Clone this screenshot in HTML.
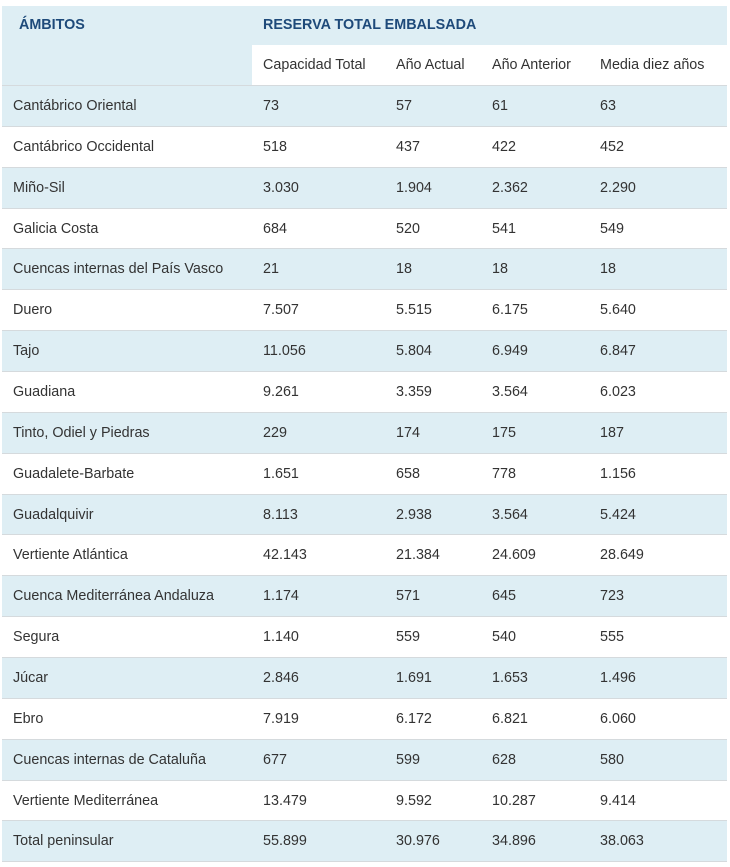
<!DOCTYPE html>
<html><head><meta charset="utf-8"><style>
body{margin:0;background:#fff;font-family:"Liberation Sans",Arial,sans-serif;}
table{position:absolute;left:2px;top:6px;width:725px;border-collapse:collapse;table-layout:fixed;font-size:14.35px;color:#333;}
td,th{height:39.86px;padding:0 0 0 11px;text-align:left;font-weight:normal;border-bottom:1px solid #d5dadd;vertical-align:middle;}
tr.b td,th{background:#deeef4;}
th{color:#1e4a7a;font-weight:bold;vertical-align:top;padding-top:11px;height:28px;}
th.a{padding-left:17px;}
tr.h2 td{background:#fff;height:40px;}
</style></head><body>
<table>
<colgroup><col style="width:250px"><col style="width:133px"><col style="width:96px"><col style="width:108px"><col></colgroup>
<tr><th class="a" rowspan="2" style="border-bottom:1px solid #d5dadd">ÁMBITOS</th><th colspan="4" style="border-bottom:none">RESERVA TOTAL EMBALSADA</th></tr>
<tr class="h2"><td>Capacidad Total</td><td>Año Actual</td><td>Año Anterior</td><td>Media diez años</td></tr>
<tr class="b"><td>Cantábrico Oriental</td><td>73</td><td>57</td><td>61</td><td>63</td></tr>
<tr><td>Cantábrico Occidental</td><td>518</td><td>437</td><td>422</td><td>452</td></tr>
<tr class="b"><td>Miño-Sil</td><td>3.030</td><td>1.904</td><td>2.362</td><td>2.290</td></tr>
<tr><td>Galicia Costa</td><td>684</td><td>520</td><td>541</td><td>549</td></tr>
<tr class="b"><td>Cuencas internas del País Vasco</td><td>21</td><td>18</td><td>18</td><td>18</td></tr>
<tr><td>Duero</td><td>7.507</td><td>5.515</td><td>6.175</td><td>5.640</td></tr>
<tr class="b"><td>Tajo</td><td>11.056</td><td>5.804</td><td>6.949</td><td>6.847</td></tr>
<tr><td>Guadiana</td><td>9.261</td><td>3.359</td><td>3.564</td><td>6.023</td></tr>
<tr class="b"><td>Tinto, Odiel y Piedras</td><td>229</td><td>174</td><td>175</td><td>187</td></tr>
<tr><td>Guadalete-Barbate</td><td>1.651</td><td>658</td><td>778</td><td>1.156</td></tr>
<tr class="b"><td>Guadalquivir</td><td>8.113</td><td>2.938</td><td>3.564</td><td>5.424</td></tr>
<tr><td>Vertiente Atlántica</td><td>42.143</td><td>21.384</td><td>24.609</td><td>28.649</td></tr>
<tr class="b"><td>Cuenca Mediterránea Andaluza</td><td>1.174</td><td>571</td><td>645</td><td>723</td></tr>
<tr><td>Segura</td><td>1.140</td><td>559</td><td>540</td><td>555</td></tr>
<tr class="b"><td>Júcar</td><td>2.846</td><td>1.691</td><td>1.653</td><td>1.496</td></tr>
<tr><td>Ebro</td><td>7.919</td><td>6.172</td><td>6.821</td><td>6.060</td></tr>
<tr class="b"><td>Cuencas internas de Cataluña</td><td>677</td><td>599</td><td>628</td><td>580</td></tr>
<tr><td>Vertiente Mediterránea</td><td>13.479</td><td>9.592</td><td>10.287</td><td>9.414</td></tr>
<tr class="b"><td>Total peninsular</td><td>55.899</td><td>30.976</td><td>34.896</td><td>38.063</td></tr>
</table>
</body></html>
